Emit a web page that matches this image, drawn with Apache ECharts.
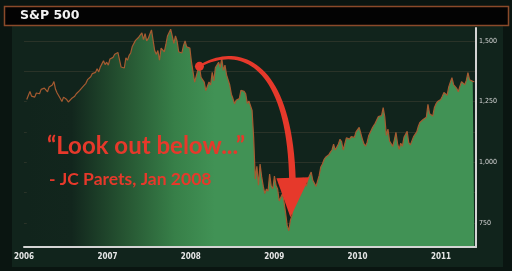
<!DOCTYPE html>
<html><head><meta charset="utf-8">
<script src="https://cdn.jsdelivr.net/npm/echarts@6/dist/echarts.min.js"></script>
<style>html,body{margin:0;padding:0;background:#0a1511;}#c{width:512px;height:271px;}</style>
</head><body><div id="c"></div>
<script>
// ---- data (weekly S&P 500 closes) ----
const dates = [
'2006-01-13','2006-01-20','2006-01-27','2006-02-03','2006-02-10','2006-02-17','2006-02-24','2006-03-03','2006-03-10','2006-03-17','2006-03-24','2006-03-31',
'2006-04-07','2006-04-14','2006-04-21','2006-04-28','2006-05-05','2006-05-12','2006-05-19','2006-05-26','2006-06-02','2006-06-09','2006-06-16','2006-06-23','2006-06-30',
'2006-07-07','2006-07-14','2006-07-21','2006-07-28','2006-08-04','2006-08-11','2006-08-18','2006-08-25','2006-09-01','2006-09-08','2006-09-15','2006-09-22','2006-09-29',
'2006-10-06','2006-10-13','2006-10-20','2006-10-27','2006-11-03','2006-11-10','2006-11-17','2006-11-24','2006-12-01','2006-12-08','2006-12-15','2006-12-22','2006-12-29',
'2007-01-05','2007-01-12','2007-01-19','2007-01-26','2007-02-02','2007-02-09','2007-02-16','2007-02-23','2007-03-02','2007-03-09','2007-03-16','2007-03-23','2007-03-30',
'2007-04-06','2007-04-13','2007-04-20','2007-04-27','2007-05-04','2007-05-11','2007-05-18','2007-05-25','2007-06-01','2007-06-08','2007-06-15','2007-06-22','2007-06-29',
'2007-07-06','2007-07-13','2007-07-20','2007-07-27','2007-08-03','2007-08-10','2007-08-17','2007-08-24','2007-08-31','2007-09-07','2007-09-14','2007-09-21','2007-09-28',
'2007-10-05','2007-10-12','2007-10-19','2007-10-26','2007-11-02','2007-11-09','2007-11-16','2007-11-23','2007-11-30','2007-12-07','2007-12-14','2007-12-21','2007-12-28',
'2008-01-04','2008-01-11','2008-01-18','2008-01-25','2008-02-01','2008-02-08','2008-02-15','2008-02-22','2008-02-29','2008-03-07','2008-03-14','2008-03-21','2008-03-28',
'2008-04-04','2008-04-11','2008-04-18','2008-04-25','2008-05-02','2008-05-09','2008-05-16','2008-05-23','2008-05-30','2008-06-06','2008-06-13','2008-06-20','2008-06-27',
'2008-07-04','2008-07-11','2008-07-18','2008-07-25','2008-08-01','2008-08-08','2008-08-15','2008-08-22','2008-08-29','2008-09-05','2008-09-12','2008-09-19','2008-09-26',
'2008-10-03','2008-10-10','2008-10-17','2008-10-24','2008-10-31','2008-11-07','2008-11-14','2008-11-21','2008-11-28','2008-12-05','2008-12-12','2008-12-19','2008-12-26',
'2009-01-02','2009-01-09','2009-01-16','2009-01-23','2009-01-30','2009-02-06','2009-02-13','2009-02-20','2009-02-27','2009-03-06','2009-03-13','2009-03-20','2009-03-27',
'2009-04-03','2009-04-10','2009-04-17','2009-04-24','2009-05-01','2009-05-08','2009-05-15','2009-05-22','2009-05-29','2009-06-05','2009-06-12','2009-06-19','2009-06-26',
'2009-07-03','2009-07-10','2009-07-17','2009-07-24','2009-07-31','2009-08-07','2009-08-14','2009-08-21','2009-08-28','2009-09-04','2009-09-11','2009-09-18','2009-09-25',
'2009-10-02','2009-10-09','2009-10-16','2009-10-23','2009-10-30','2009-11-06','2009-11-13','2009-11-20','2009-11-27','2009-12-04','2009-12-11','2009-12-18','2009-12-25',
'2010-01-01','2010-01-08','2010-01-15','2010-01-22','2010-01-29','2010-02-05','2010-02-12','2010-02-19','2010-02-26','2010-03-05','2010-03-12','2010-03-19','2010-03-26',
'2010-04-02','2010-04-09','2010-04-16','2010-04-23','2010-04-30','2010-05-07','2010-05-14','2010-05-21','2010-05-28','2010-06-04','2010-06-11','2010-06-18','2010-06-25',
'2010-07-02','2010-07-09','2010-07-16','2010-07-23','2010-07-30','2010-08-06','2010-08-13','2010-08-20','2010-08-27','2010-09-03','2010-09-10','2010-09-17','2010-09-24',
'2010-10-01','2010-10-08','2010-10-15','2010-10-22','2010-10-29','2010-11-05','2010-11-12','2010-11-19','2010-11-26','2010-12-03','2010-12-10','2010-12-17','2010-12-24','2010-12-31',
'2011-01-07','2011-01-14','2011-01-21','2011-01-28','2011-02-04','2011-02-11','2011-02-18','2011-02-25','2011-03-04','2011-03-11','2011-03-18','2011-03-25',
'2011-04-01','2011-04-08','2011-04-15','2011-04-22','2011-04-29','2011-05-06','2011-05-13','2011-05-20','2011-05-27'
];
const values = [
1258,1275,1291,1272,1280,1268,1285,1290,1282,1300,1296,1305,
1298,1290,1310,1304,1318,1332,1300,1285,1292,1262,1250,1268,1272,
1258,1248,1240,1262,1260,1272,1282,1278,1295,1290,1310,1305,1325,
1340,1348,1352,1365,1358,1370,1385,1372,1392,1405,1418,1402,1412,
1400,1425,1420,1432,1445,1440,1452,1455,1392,1400,1388,1430,1420,
1440,1450,1477,1485,1502,1500,1515,1510,1533,1505,1530,1500,1510,
1528,1545,1538,1460,1445,1460,1420,1470,1468,1455,1485,1520,1526,
1548,1545,1490,1520,1500,1455,1460,1450,1480,1500,1475,1480,1470,
1412,1405,1330,1335,1380,1395,1350,1355,1330,1295,1290,1330,1318,
1370,1335,1390,1398,1412,1390,1428,1378,1400,1360,1362,1318,1280,
1262,1240,1255,1257,1262,1296,1298,1292,1282,1242,1252,1255,1213,
1099,930,983,905,992,940,901,870,889,880,951,901,890,
942,905,889,840,845,870,836,790,738,717,760,780,820,
845,860,880,930,905,935,942,900,930,945,959,925,930,
900,897,945,980,992,1010,1020,1025,1030,1041,1050,1074,1050,
1045,1075,1094,1085,1050,1075,1100,1092,1095,1105,1106,1102,1125,
1118,1143,1147,1095,1075,1066,1082,1110,1105,1138,1150,1160,1166,
1188,1195,1192,1225,1187,1110,1136,1087,1090,1065,1092,1123,1076,
1053,1078,1065,1102,1101,1127,1080,1071,1065,1105,1110,1125,1148,
1164,1166,1176,1183,1185,1238,1200,1205,1190,1224,1240,1250,1256,1258,
1272,1287,1283,1276,1310,1330,1348,1320,1321,1304,1290,1313,
1332,1328,1319,1337,1369,1340,1338,1333,1332
];
const yearTicks = [2006, 2007, 2008, 2009, 2010, 2011];
const yLabelValues = [750, 1000, 1250, 1500];
const gridValues = [750, 875, 1000, 1125, 1250, 1375, 1500];
const title = 'S&P 500';
const quote = '\u201CLook out below...\u201D';
const attribution = '- JC Parets, Jan 2008';
const quoteDate = '2008-02-08';
const quoteValue = 1395;

function decYear(s) {
  const p = s.split('-').map(Number);
  const a = Date.UTC(p[0], 0, 1), b = Date.UTC(p[0] + 1, 0, 1);
  return p[0] + (Date.UTC(p[0], p[1] - 1, p[2]) - a) / (b - a);
}
const seriesData = dates.map((d, i) => [decYear(d), values[i]]);
const X_MIN = 2006, X_MAX = 2011.42;

const chart = echarts.init(document.getElementById('c'), null, {renderer: 'canvas'});
const GREEN = '#419255';
const RED = '#e6392b';

const option = {
  backgroundColor: '#0a1511',
  animation: false,
  grid: {left: 24, right: 36, top: 28, bottom: 24},
  xAxis: {
    type: 'value', min: X_MIN, max: X_MAX, interval: 1, z: 10,
    axisLine: {show: true, onZero: false, lineStyle: {color: '#d4d4d4', width: 2}},
    axisTick: {show: false}, splitLine: {show: false},
    axisLabel: {
      color: '#e6e6e6', fontSize: 8, fontWeight: 'bold',
      fontFamily: '"Liberation Sans Narrow","DejaVu Sans Condensed",sans-serif',
      margin: 6, showMaxLabel: false,
      formatter: v => (yearTicks.indexOf(v) >= 0 ? String(v) : '')
    }
  },
  yAxis: {
    type: 'value', position: 'right', min: 650, max: 1553, z: 10,
    axisLine: {show: true, lineStyle: {color: '#d4d4d4', width: 2}},
    axisTick: {show: false}, splitLine: {show: false},
    axisLabel: {
      customValues: yLabelValues,
      color: '#d8d8d8', fontSize: 7,
      fontFamily: '"Liberation Sans Narrow","DejaVu Sans Condensed",sans-serif',
      margin: 3,
      formatter: v => Number(v).toLocaleString('en-US')
    }
  },
  series: [
    {
      type: 'line', data: seriesData, z: 3, symbol: 'none', smooth: false,
      lineStyle: {color: '#a65b31', width: 1.2},
      areaStyle: {
        opacity: 1,
        color: new echarts.graphic.LinearGradient(0, 0, 1, 0, [
          {offset: 0, color: 'rgba(17,36,28,1)'},
          {offset: 0.1, color: 'rgba(18,38,29,1)'},
          {offset: 0.22, color: '#265532'},
          {offset: 0.33, color: '#377f48'},
          {offset: 0.42, color: GREEN},
          {offset: 1, color: GREEN}
        ])
      }
    }
  ],
  graphic: [
    {type: 'rect', z: -5, silent: true, shape: {x: 12, y: 24, width: 491, height: 243}, style: {fill: '#11241c'}},
    {type: 'rect', z: 50, silent: true, shape: {x: 4.5, y: 6.5, width: 504, height: 19}, style: {fill: '#030303', stroke: '#8a4a2a', lineWidth: 1.5}},
    {type: 'text', z: 51, silent: true, x: 20, y: 16, style: {text: title, fill: '#f2f2f2', font: 'bold 12.5px "DejaVu Sans", sans-serif', textVerticalAlign: 'middle'}}
  ]
};
chart.setOption(option);

// Horizontal grid lines, positioned through the y scale, drawn behind the area
const gridGraphics = gridValues.map(v => {
  const a = chart.convertToPixel({gridIndex: 0}, [X_MIN, v]);
  const b = chart.convertToPixel({gridIndex: 0}, [X_MAX, v]);
  const y = Math.round(a[1]) + 0.5;
  return {type: 'line', z: -4, silent: true, shape: {x1: a[0], y1: y, x2: b[0], y2: y}, style: {stroke: '#2a3328', lineWidth: 1}};
});

// Annotation: quote, curved arrow from the Jan-2008 point
const p = chart.convertToPixel({gridIndex: 0}, [decYear(quoteDate), quoteValue]);
function bez(t, a, b, c, d) { const u = 1 - t; return u*u*u*a + 3*u*u*t*b + 3*u*t*t*c + t*t*t*d; }
const P0 = [p[0], p[1]], P1 = [p[0] + 35, p[1] - 21], P2 = [p[0] + 90, p[1] - 11], P3 = [p[0] + 93, p[1] + 114];
const left = [], right = [];
const N = 40;
for (let i = 0; i <= N; i++) {
  const t = i / N;
  const x = bez(t, P0[0], P1[0], P2[0], P3[0]), y = bez(t, P0[1], P1[1], P2[1], P3[1]);
  const t2 = Math.min(1, t + 0.001), t1 = Math.max(0, t - 0.001);
  const dx = bez(t2, P0[0], P1[0], P2[0], P3[0]) - bez(t1, P0[0], P1[0], P2[0], P3[0]);
  const dy = bez(t2, P0[1], P1[1], P2[1], P3[1]) - bez(t1, P0[1], P1[1], P2[1], P3[1]);
  const L = Math.hypot(dx, dy) || 1;
  const w = 1.1 + 2.2 * t;
  left.push([x - dy / L * w, y + dx / L * w]);
  right.push([x + dy / L * w, y - dx / L * w]);
}
const ribbon = left.concat(right.reverse());
chart.setOption({
  graphic: option.graphic.concat(gridGraphics).concat([
    {type: 'polygon', z: 60, silent: true, shape: {points: ribbon}, style: {fill: RED}},
    {type: 'polygon', z: 60, silent: true, shape: {points: [[p[0] + 77, p[1] + 112], [p[0] + 110, p[1] + 111], [p[0] + 91, p[1] + 151]]}, style: {fill: RED}},
    {type: 'circle', z: 61, silent: true, shape: {cx: p[0], cy: p[1], r: 4.5}, style: {fill: RED}},
    {type: 'text', z: 62, silent: true, x: 47, y: 146, style: {text: quote, fill: RED, font: 'bold 24px Lato, "Open Sans", sans-serif', textVerticalAlign: 'middle'}},
    {type: 'text', z: 62, silent: true, x: 49, y: 179, style: {text: attribution, fill: RED, font: 'bold 17.5px Lato, "Open Sans", sans-serif', textVerticalAlign: 'middle'}}
  ])
});
</script>
</body></html>
